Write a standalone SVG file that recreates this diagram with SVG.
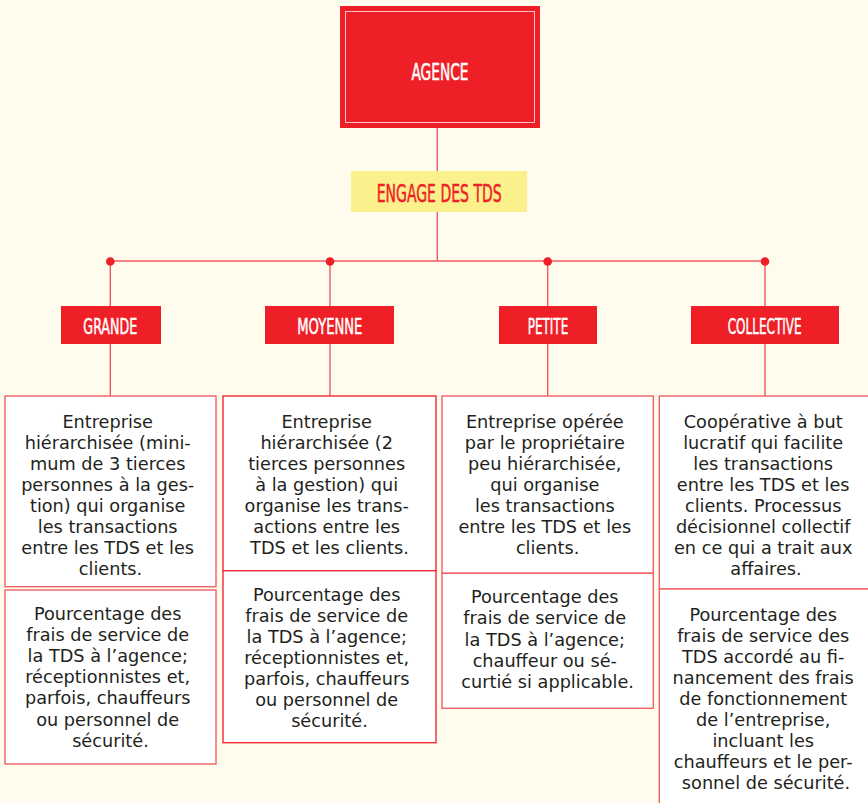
<svg xmlns="http://www.w3.org/2000/svg" width="868" height="803" viewBox="0 0 868 803">
<style>
.bg{fill:#FFFCEE}
.red{fill:#EE1F27}
.hd{font-family:"DejaVu Sans Condensed","Liberation Sans Narrow","Liberation Sans",sans-serif;fill:#FFFFFF;stroke:#FFFFFF;stroke-width:0.5;text-anchor:middle}
.eng{font-family:"DejaVu Sans Condensed","Liberation Sans Narrow","Liberation Sans",sans-serif;fill:#EE1F27;stroke:#EE1F27;stroke-width:0.5;text-anchor:middle}
.box{fill:#FFFFFF;stroke:#F06065;stroke-width:1.4}
.body{font-family:"DejaVu Sans","Liberation Sans",sans-serif;font-size:17.7px;fill:#231F20;text-anchor:middle}
.ln{stroke:#F05A60;stroke-width:1.4;fill:none}
.dot{fill:#EE1F27}
</style>
<rect class="bg" x="0" y="0" width="868" height="803"/>

<g id="connectors">
<line class="ln" x1="437.3" y1="128" x2="437.3" y2="171"/>
<line class="ln" x1="437.3" y1="212" x2="437.3" y2="261"/>
<line class="ln" x1="110.3" y1="261" x2="765" y2="261"/>
<line class="ln" x1="110.3" y1="261" x2="110.3" y2="306"/>
<line class="ln" x1="330" y1="261" x2="330" y2="306"/>
<line class="ln" x1="547.7" y1="261" x2="547.7" y2="306"/>
<line class="ln" x1="765" y1="261" x2="765" y2="306"/>
<line class="ln" x1="110.3" y1="344" x2="110.3" y2="396"/>
<line class="ln" x1="330" y1="344" x2="330" y2="396"/>
<line class="ln" x1="547.7" y1="344" x2="547.7" y2="396"/>
<line class="ln" x1="765" y1="344" x2="765" y2="396"/>
<circle class="dot" cx="110.3" cy="261.5" r="4.3"/>
<circle class="dot" cx="330" cy="261.5" r="4.3"/>
<circle class="dot" cx="547.7" cy="261.5" r="4.3"/>
<circle class="dot" cx="765" cy="261.5" r="4.3"/>
</g>

<g id="agence">
<rect class="red" x="340" y="6" width="200" height="122"/>
<rect x="345.5" y="11.5" width="189" height="111" fill="none" stroke="#FFFFFF" stroke-opacity="0.75" stroke-width="1"/>
<text class="hd" x="440" y="80" font-size="23.5" textLength="57" lengthAdjust="spacingAndGlyphs">AGENCE</text>
</g>

<g id="engage">
<rect x="351" y="171" width="176" height="41" fill="#FAF08C"/>
<text class="eng" x="439.2" y="201.7" font-size="25.5" textLength="125" lengthAdjust="spacingAndGlyphs">ENGAGE DES TDS</text>
</g>

<g id="grande">
<rect class="red" x="61" y="306" width="100" height="38"/>
<text class="hd" x="110.3" y="334.3" font-size="21.5" textLength="54" lengthAdjust="spacingAndGlyphs">GRANDE</text>
</g>
<g id="moyenne">
<rect class="red" x="265" y="306" width="129" height="38"/>
<text class="hd" x="329.8" y="334.3" font-size="21.5" textLength="65" lengthAdjust="spacingAndGlyphs">MOYENNE</text>
</g>
<g id="petite">
<rect class="red" x="499" y="306" width="98" height="38"/>
<text class="hd" x="548" y="334.3" font-size="21.5" textLength="40.6" lengthAdjust="spacingAndGlyphs">PETITE</text>
</g>
<g id="collective">
<rect class="red" x="691" y="306" width="148" height="38"/>
<text class="hd" x="764.7" y="334.3" font-size="21.5" textLength="74" lengthAdjust="spacingAndGlyphs">COLLECTIVE</text>
</g>

<g id="grande-structure">
<rect class="box" x="5" y="396" width="211" height="190.7"/>
<text class="body">
<tspan x="110.5" y="427.5">Entreprise</tspan>
<tspan x="110.5" y="448.6">hiérarchisée (mini-</tspan>
<tspan x="110.5" y="469.7">mum de 3 tierces</tspan>
<tspan x="110.5" y="490.8">personnes à la ges-</tspan>
<tspan x="110.5" y="511.9">tion) qui organise</tspan>
<tspan x="110.5" y="533">les transactions</tspan>
<tspan x="110.5" y="554.1">entre les TDS et les</tspan>
<tspan x="110.5" y="575.2">clients.</tspan>
</text>
</g>
<g id="grande-frais">
<rect class="box" x="5" y="590" width="211" height="174"/>
<text class="body">
<tspan x="110.5" y="620">Pourcentage des</tspan>
<tspan x="110.5" y="641.1">frais de service de</tspan>
<tspan x="110.5" y="662.2">la TDS à l’agence;</tspan>
<tspan x="110.5" y="683.3">réceptionnistes et,</tspan>
<tspan x="110.5" y="704.4">parfois, chauffeurs</tspan>
<tspan x="110.5" y="725.5">ou personnel de</tspan>
<tspan x="110.5" y="746.6">sécurité.</tspan>
</text>
</g>

<g id="moyenne-structure">
<rect class="box" x="223" y="396" width="213" height="174.7" style="stroke:#EE2A33"/>
<text class="body">
<tspan x="329.5" y="427.5">Entreprise</tspan>
<tspan x="329.5" y="448.6">hiérarchisée (2</tspan>
<tspan x="329.5" y="469.7">tierces personnes</tspan>
<tspan x="329.5" y="490.8">à la gestion) qui</tspan>
<tspan x="329.5" y="511.9">organise les trans-</tspan>
<tspan x="329.5" y="533">actions entre les</tspan>
<tspan x="329.5" y="554.1">TDS et les clients.</tspan>
</text>
</g>
<g id="moyenne-frais">
<rect class="box" x="223" y="570.7" width="213" height="172" style="stroke:#EE2A33"/>
<text class="body">
<tspan x="329.5" y="600.7">Pourcentage des</tspan>
<tspan x="329.5" y="621.8">frais de service de</tspan>
<tspan x="329.5" y="642.9">la TDS à l’agence;</tspan>
<tspan x="329.5" y="664">réceptionnistes et,</tspan>
<tspan x="329.5" y="685.1">parfois, chauffeurs</tspan>
<tspan x="329.5" y="706.2">ou personnel de</tspan>
<tspan x="329.5" y="727.3">sécurité.</tspan>
</text>
</g>

<g id="petite-structure">
<rect class="box" x="442" y="396" width="211.3" height="177.3"/>
<text class="body">
<tspan x="547.6" y="427.5">Entreprise opérée</tspan>
<tspan x="547.6" y="448.6">par le propriétaire</tspan>
<tspan x="547.6" y="469.7">peu hiérarchisée,</tspan>
<tspan x="547.6" y="490.8">qui organise</tspan>
<tspan x="547.6" y="511.9">les transactions</tspan>
<tspan x="547.6" y="533">entre les TDS et les</tspan>
<tspan x="547.6" y="554.1">clients.</tspan>
</text>
</g>
<g id="petite-frais">
<rect class="box" x="442" y="573.3" width="211.3" height="135"/>
<text class="body">
<tspan x="547.6" y="603.3">Pourcentage des</tspan>
<tspan x="547.6" y="624.4">frais de service de</tspan>
<tspan x="547.6" y="645.5">la TDS à l’agence;</tspan>
<tspan x="547.6" y="666.6">chauffeur ou sé-</tspan>
<tspan x="547.6" y="687.7">curtié si applicable.</tspan>
</text>
</g>

<g id="collective-structure">
<rect class="box" x="659.3" y="396" width="216" height="193"/>
<text class="body">
<tspan x="766" y="427.5">Coopérative à but</tspan>
<tspan x="766" y="448.6">lucratif qui facilite</tspan>
<tspan x="766" y="469.7">les transactions</tspan>
<tspan x="766" y="490.8">entre les TDS et les</tspan>
<tspan x="766" y="511.9">clients. Processus</tspan>
<tspan x="766" y="533">décisionnel collectif</tspan>
<tspan x="766" y="554.1">en ce qui a trait aux</tspan>
<tspan x="766" y="575.2">affaires.</tspan>
</text>
</g>
<g id="collective-frais">
<rect class="box" x="659.3" y="589" width="216" height="225"/>
<text class="body">
<tspan x="766" y="620.5">Pourcentage des</tspan>
<tspan x="766" y="641.6">frais de service des</tspan>
<tspan x="766" y="662.7">TDS accordé au fi-</tspan>
<tspan x="766" y="683.8">nancement des frais</tspan>
<tspan x="766" y="704.9">de fonctionnement</tspan>
<tspan x="766" y="726">de l’entreprise,</tspan>
<tspan x="766" y="747.1">incluant les</tspan>
<tspan x="766" y="768.2">chauffeurs et le per-</tspan>
<tspan x="766" y="789.3">sonnel de sécurité.</tspan>
</text>
</g>
</svg>
